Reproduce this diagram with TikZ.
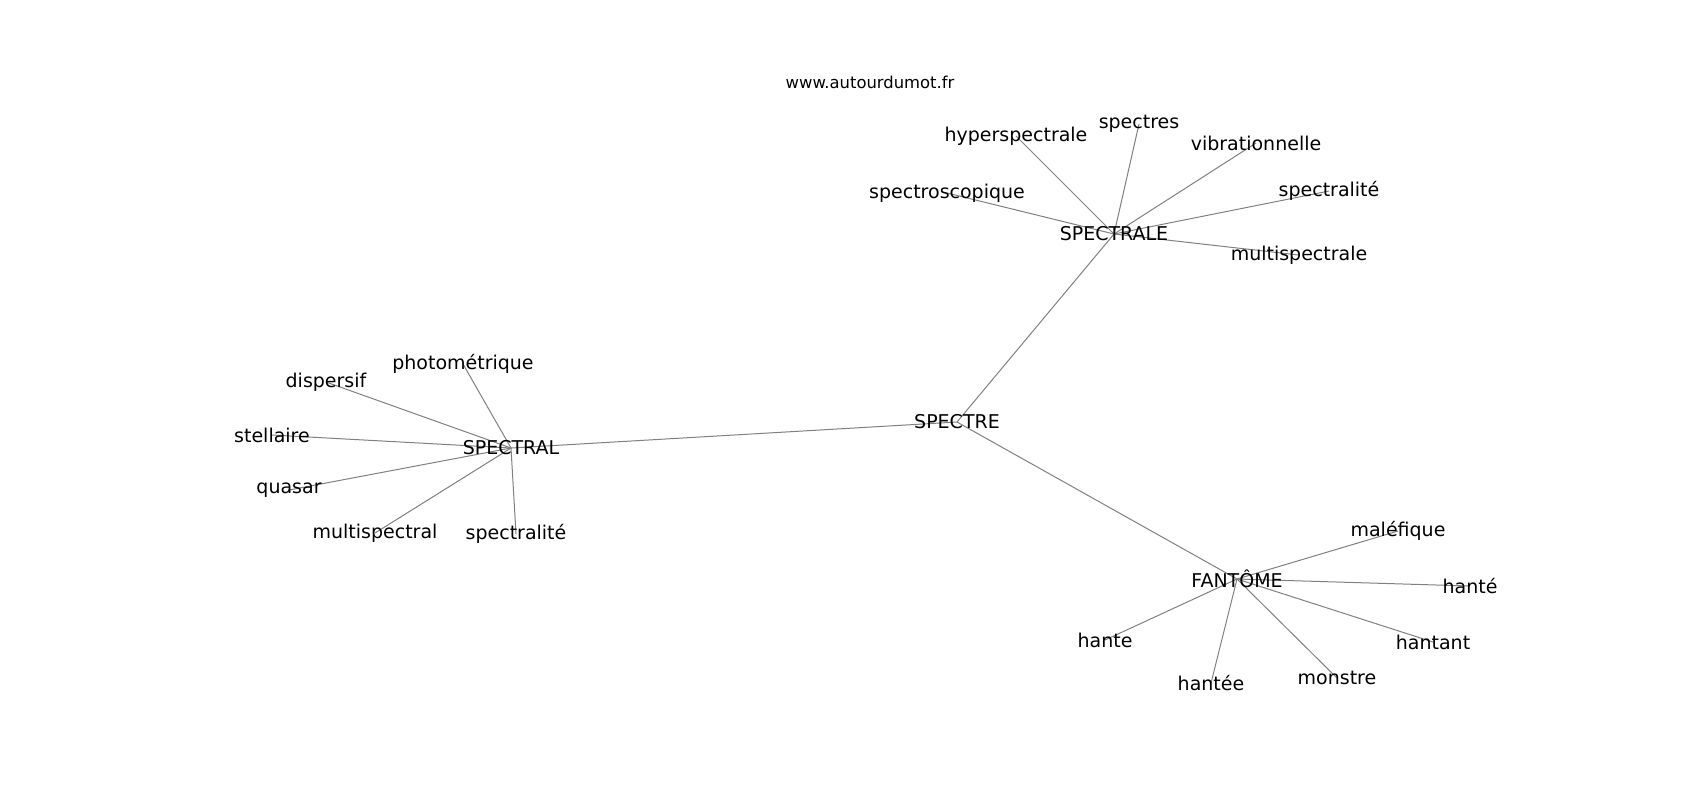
\documentclass[tikz,border=0pt]{standalone}
\usepackage{fontspec}
\setmainfont{DejaVu Sans}
\usetikzlibrary{backgrounds}

\begin{document}
\begin{tikzpicture}[x=0.5pt,y=-0.5pt,
    word/.style={font=\fontsize{9.5}{11}\selectfont, inner sep=0pt},
    link/.style={draw=gray, line width=0.5pt}]
    \useasboundingbox (0,0) rectangle (1700,800);
    \node[font=\fontsize{8.2}{10}\selectfont] (site) at (870,82) {www.autourdumot.fr};
    % hubs
    \node[word]  (SPECTRE)   at (957,422)  {SPECTRE};
    \node[word]  (SPECTRAL)  at (511,448)  {SPECTRAL};
    \node[word]  (SPECTRALE) at (1114,234) {SPECTRALE};
    \node[word]  (FANTOME)   at (1237,579) {FANTÔME};
    % around SPECTRALE
    \node[word]  (hyper)   at (1016,136) {hyperspectrale};
    \node[word]  (spectres) at (1139,124) {spectres};
    \node[word]  (vibr)    at (1256,143) {vibrationnelle};
    \node[word]  (spectralite2) at (1329,191) {spectralité};
    \node[word]  (multie)  at (1299,255) {multispectrale};
    \node[word]  (scopique) at (947,193) {spectroscopique};
    % around SPECTRAL
    \node[word]  (photo)   at (463,364)  {photométrique};
    \node[word]  (dispersif) at (326,382) {dispersif};
    \node[word]  (stellaire) at (272,435) {stellaire};
    \node[word]  (quasar)  at (289,490)  {quasar};
    \node[word]  (multi)   at (375,533)  {multispectral};
    \node[word]  (spectralite) at (516,534) {spectralité};
    % around FANTOME
    \node[word]  (malefique) at (1398,531) {maléfique};
    \node[word]  (hante1)  at (1470,586) {hanté};
    \node[word]  (hantant) at (1433,642) {hantant};
    \node[word]  (monstre) at (1337,678) {monstre};
    \node[word]  (hantee)  at (1211,683) {hantée};
    \node[word]  (hante)   at (1105,640) {hante};
    \begin{scope}[on background layer]
    \path[link] (SPECTRE.center) edge (SPECTRAL.center)
                (SPECTRE.center) edge (SPECTRALE.center)
                (SPECTRE.center) edge (FANTOME.center)
                ;
    \foreach \w in {hyper,spectres,vibr,spectralite2,multie,scopique}
        \path[link] (SPECTRALE.center) edge (\w.center);
    \foreach \w in {photo,dispersif,stellaire,quasar,multi,spectralite}
        \path[link] (SPECTRAL.center) edge (\w.center);
    \foreach \w in {malefique,hante1,hantant,monstre,hantee,hante}
        \path[link] (FANTOME.center) edge (\w.center);
    \end{scope}
\end{tikzpicture}
\end{document}
